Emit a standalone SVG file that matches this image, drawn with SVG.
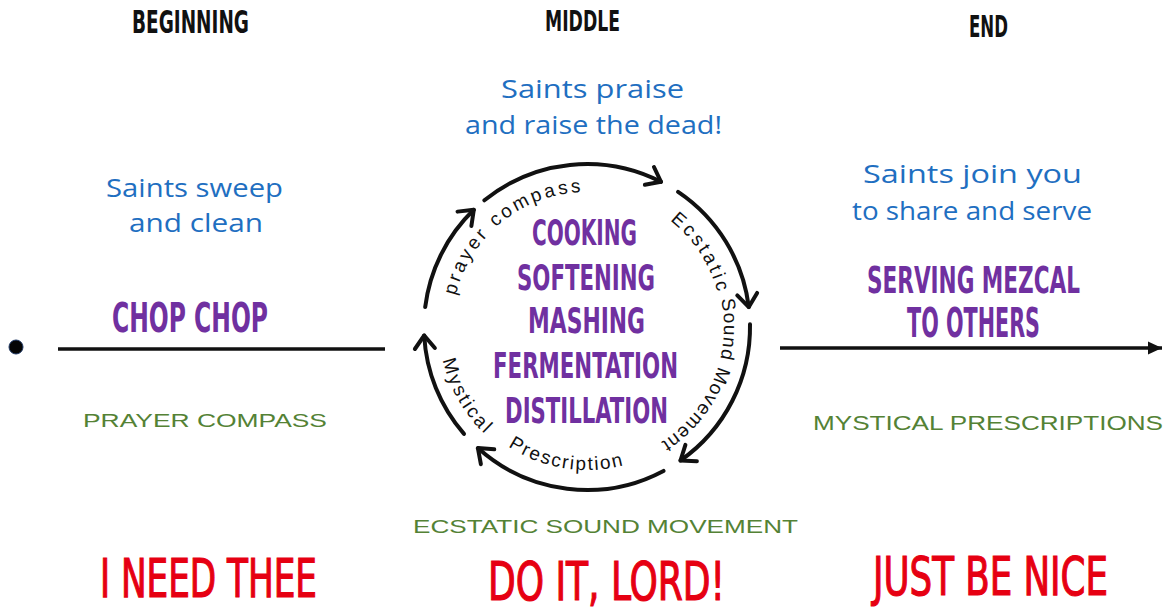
<svg xmlns="http://www.w3.org/2000/svg" width="1170" height="608" viewBox="0 0 1170 608">
<defs>
<style>
.hd{font-family:'DejaVu Sans Condensed','Liberation Sans Narrow','Liberation Sans',sans-serif;font-weight:bold;fill:#111;text-anchor:middle}
.pu{font-family:'DejaVu Sans Condensed','Liberation Sans Narrow','Liberation Sans',sans-serif;font-weight:bold;fill:#7030a0;text-anchor:middle}
.rd{font-family:'DejaVu Sans Condensed','Liberation Sans Narrow','Liberation Sans',sans-serif;font-weight:normal;fill:#e60012;text-anchor:middle;font-size:54px;stroke:#e60012;stroke-width:1.2}
.bl{font-family:'Open Sans','Noto Sans',sans-serif;fill:#1f6fc1;text-anchor:middle;font-size:25px}
.gr{font-family:'Liberation Sans','Noto Sans',sans-serif;fill:#548235;text-anchor:middle}
.ct{font-family:'Liberation Sans',sans-serif;fill:#111;font-size:19px;text-anchor:middle}
.arc{fill:none;stroke:#111;stroke-width:4;stroke-linecap:round;marker-end:url(#chev)}
</style>
<marker id="chev" markerUnits="userSpaceOnUse" viewBox="-16 -16 32 32" markerWidth="32" markerHeight="32" refX="0" refY="0" orient="auto" overflow="visible">
<path d="M-13,-10 L0,0 L-13,10" fill="none" stroke="#111" stroke-width="4" stroke-linecap="round" stroke-linejoin="round"/>
</marker>
<marker id="tri" markerUnits="userSpaceOnUse" viewBox="-14 -7 14 14" markerWidth="14" markerHeight="14" refX="0" refY="0" orient="auto">
<path d="M-14,-6.5 L0,0 L-14,6.5 Z" fill="#111"/>
</marker>
<path id="tp1" d="M468.9,392.4 A135,135 0 0 1 675.6,225.1"/>
<path id="tp2" d="M534.3,202.7 A135,135 0 0 1 679.1,425.7"/>
<path id="tp3" d="M661.6,212.1 A137,137 0 0 1 556.2,460.5"/>
<path id="tp4" d="M444.0,329.5 A143,143 0 0 0 722.2,373.6"/>
<path id="tp5" d="M491.9,213.6 A148,148 0 0 0 637.6,466.1"/>
</defs>
<rect width="1170" height="608" fill="#fff"/>

<g id="headings">
<text class="hd" x="190.5" y="33" font-size="32" textLength="117" lengthAdjust="spacingAndGlyphs">BEGINNING</text>
<text class="hd" x="582.5" y="31" font-size="29" textLength="75" lengthAdjust="spacingAndGlyphs">MIDDLE</text>
<text class="hd" x="988.5" y="37" font-size="30" textLength="39" lengthAdjust="spacingAndGlyphs">END</text>
</g>

<g id="saints">
<text class="bl" x="592.5" y="98" textLength="183" lengthAdjust="spacingAndGlyphs">Saints praise</text>
<text class="bl" x="593.5" y="134" textLength="257" lengthAdjust="spacingAndGlyphs">and raise the dead!</text>
<text class="bl" x="194.5" y="197" textLength="177" lengthAdjust="spacingAndGlyphs">Saints sweep</text>
<text class="bl" x="196" y="232" textLength="134" lengthAdjust="spacingAndGlyphs">and clean</text>
<text class="bl" x="972.5" y="183" textLength="219" lengthAdjust="spacingAndGlyphs">Saints join you</text>
<text class="bl" x="972" y="220" textLength="240" lengthAdjust="spacingAndGlyphs">to share and serve</text>
</g>

<g id="node-beginning">
<circle cx="16" cy="347" r="7" fill="#050505" stroke="#1f3864" stroke-width="1"/>
<text class="pu" x="190" y="332" font-size="40" textLength="156" lengthAdjust="spacingAndGlyphs">CHOP CHOP</text>
<text class="gr" x="205" y="427" font-size="19" textLength="244" lengthAdjust="spacingAndGlyphs">PRAYER COMPASS</text>
</g>

<g id="node-middle">
<text class="pu" x="584.5" y="245" font-size="35" textLength="105" lengthAdjust="spacingAndGlyphs">COOKING</text>
<text class="pu" x="586" y="290" font-size="35" textLength="138" lengthAdjust="spacingAndGlyphs">SOFTENING</text>
<text class="pu" x="586.5" y="333" font-size="35" textLength="117" lengthAdjust="spacingAndGlyphs">MASHING</text>
<text class="pu" x="585.5" y="378" font-size="35" textLength="185" lengthAdjust="spacingAndGlyphs">FERMENTATION</text>
<text class="pu" x="586.5" y="423" font-size="35" textLength="163" lengthAdjust="spacingAndGlyphs">DISTILLATION</text>
<text class="ct" letter-spacing="3"><textPath href="#tp1" startOffset="50%">prayer compass</textPath></text>
<text class="ct" letter-spacing="3"><textPath href="#tp2" startOffset="50%">Ecstatic</textPath></text>
<text class="ct" letter-spacing="1.2"><textPath href="#tp3" startOffset="50%">Sound Movement</textPath></text>
<text class="ct" letter-spacing="1.8"><textPath href="#tp4" startOffset="50%">Prescription</textPath></text>
<text class="ct" letter-spacing="2.5"><textPath href="#tp5" startOffset="50%">Mystical</textPath></text>
<text class="gr" x="605.5" y="533" font-size="18" textLength="385" lengthAdjust="spacingAndGlyphs">ECSTATIC SOUND MOVEMENT</text>
</g>

<g id="node-end">
<text class="pu" x="973.5" y="293" font-size="37" textLength="213" lengthAdjust="spacingAndGlyphs">SERVING MEZCAL</text>
<text class="pu" x="973.5" y="337" font-size="40" textLength="133" lengthAdjust="spacingAndGlyphs">TO OTHERS</text>
<text class="gr" x="988" y="430" font-size="21" textLength="350" lengthAdjust="spacingAndGlyphs">MYSTICAL PRESCRIPTIONS</text>
</g>

<g id="prayers">
<text class="rd" x="208.5" y="597" textLength="217" lengthAdjust="spacingAndGlyphs">I NEED THEE</text>
<text class="rd" x="606.5" y="600" textLength="237" lengthAdjust="spacingAndGlyphs">DO IT, LORD!</text>
<text class="rd" x="990.5" y="595" textLength="235" lengthAdjust="spacingAndGlyphs">JUST BE NICE</text>
</g>

<g id="connectors">
<line x1="58" y1="349" x2="385" y2="349" stroke="#111" stroke-width="3.5"/>
<line x1="780" y1="348" x2="1162" y2="348" stroke="#111" stroke-width="3.5" marker-end="url(#tri)"/>
<path class="arc" d="M484.4,200.3 A163,163 0 0 1 661.0,181.8"/>
<path class="arc" d="M678.1,191.9 A163,163 0 0 1 748.8,307.1"/>
<path class="arc" d="M750.0,324.2 A163,163 0 0 1 680.5,460.5"/>
<path class="arc" d="M663.5,470.9 A163,163 0 0 1 477.9,448.1"/>
<path class="arc" d="M464.0,433.9 A163,163 0 0 1 424.2,335.5"/>
<path class="arc" d="M425.2,307.1 A163,163 0 0 1 473.8,209.8"/>
</g>
</svg>
